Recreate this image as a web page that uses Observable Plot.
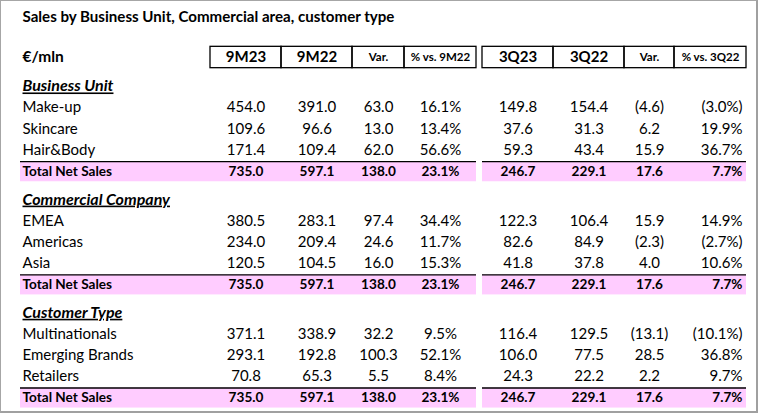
<!DOCTYPE html>
<html><head><meta charset="utf-8">
<script src="https://cdn.jsdelivr.net/npm/d3@7"></script>
<script src="https://cdn.jsdelivr.net/npm/@observablehq/plot@0.6"></script>
<style>
body{margin:0;background:#fff;}
#wrap{position:relative;width:761px;height:419px;}
#border{position:absolute;left:0;top:0;width:755px;height:410px;border-left:1px solid #a6a6a6;border-top:1px solid #a6a6a6;border-right:2px solid #a0a0a0;border-bottom:2px solid #a0a0a0;pointer-events:none;}
</style>
</head><body><div id="wrap"><div id="border"></div></div><script>
// ---- data ----
const title = "Sales by Business Unit, Commercial area, customer type";
const unitLabel = "€/mln";
const headers9M = ["9M23", "9M22", "Var.", "% vs. 9M22"];
const headers3Q = ["3Q23", "3Q22", "Var.", "% vs. 3Q22"];
const sectionNames = ["Business Unit", "Commercial Company", "Customer Type"];
const totalLabel = "Total Net Sales";

const buLabels = ["Make-up", "Skincare", "Hair&Body"];
const bu9M23 = [454.0, 109.6, 171.4];
const bu9M22 = [391.0, 96.6, 109.4];
const buVar9M = [63.0, 13.0, 62.0];
const buPct9M = [16.1, 13.4, 56.6];
const bu3Q23 = [149.8, 37.6, 59.3];
const bu3Q22 = [154.4, 31.3, 43.4];
const buVar3Q = [-4.6, 6.2, 15.9];
const buPct3Q = [-3.0, 19.9, 36.7];

const ccLabels = ["EMEA", "Americas", "Asia"];
const cc9M23 = [380.5, 234.0, 120.5];
const cc9M22 = [283.1, 209.4, 104.5];
const ccVar9M = [97.4, 24.6, 16.0];
const ccPct9M = [34.4, 11.7, 15.3];
const cc3Q23 = [122.3, 82.6, 41.8];
const cc3Q22 = [106.4, 84.9, 37.8];
const ccVar3Q = [15.9, -2.3, 4.0];
const ccPct3Q = [14.9, -2.7, 10.6];

const ctLabels = ["Multinationals", "Emerging Brands", "Retailers"];
const ct9M23 = [371.1, 293.1, 70.8];
const ct9M22 = [338.9, 192.8, 65.3];
const ctVar9M = [32.2, 100.3, 5.5];
const ctPct9M = [9.5, 52.1, 8.4];
const ct3Q23 = [116.4, 106.0, 24.3];
const ct3Q22 = [129.5, 77.5, 22.2];
const ctVar3Q = [-13.1, 28.5, 2.2];
const ctPct3Q = [-10.1, 36.8, 9.7];

const total9M23 = 735.0, total9M22 = 597.1, totalVar9M = 138.0, totalPct9M = 23.1;
const total3Q23 = 246.7, total3Q22 = 229.1, totalVar3Q = 17.6, totalPct3Q = 7.7;

// ---- layout ----
const FONT = "Lato, 'Open Sans', sans-serif";
const edges9M = [210, 281, 352, 404, 476];
const edges3Q = [482, 553, 624, 674, 746];
const labelX = 22;
const bandX0 = 20;
const lastRight = 742;
const rowGap = 1, sectionGap = 1.3;

const fmtNum = v => v < 0 ? `(${Math.abs(v).toFixed(1)})` : v.toFixed(1);
const fmtPct = v => v < 0 ? `(${Math.abs(v).toFixed(1)}%)` : `${v.toFixed(1)}%`;

const sections = [
  {name: sectionNames[0], labels: buLabels, cols: [bu9M23, bu9M22, buVar9M, buPct9M, bu3Q23, bu3Q22, buVar3Q, buPct3Q]},
  {name: sectionNames[1], labels: ccLabels, cols: [cc9M23, cc9M22, ccVar9M, ccPct9M, cc3Q23, cc3Q22, ccVar3Q, ccPct3Q]},
  {name: sectionNames[2], labels: ctLabels, cols: [ct9M23, ct9M22, ctVar9M, ctPct9M, ct3Q23, ct3Q22, ctVar3Q, ctPct3Q]}
];
const totals = [total9M23, total9M22, totalVar9M, totalPct9M, total3Q23, total3Q22, totalVar3Q, totalPct3Q];

const colSpecs = [];
for (const edges of [edges9M, edges3Q]) {
  for (let i = 0; i < 4; i++) colSpecs.push({x1: edges[i], x2: edges[i + 1]});
}
function colPos(j) {
  const c = colSpecs[j];
  if (j === 7) return {x: lastRight, anchor: "end"};
  return {x: (c.x1 + c.x2) / 2, anchor: "middle"};
}
const fmtCol = (j, v) => (j === 3 || j === 7) ? fmtPct(v) : fmtNum(v);

const cells = [];
const totalCells = [];
const headings = [];
const totalRows = [];
let pos = 0;
pos += 1.35;
sections.forEach((s, si) => {
  if (si > 0) pos += sectionGap;
  headings.push({y: pos, text: s.name});
  s.labels.forEach((lab, r) => {
    pos += rowGap;
    cells.push({y: pos, x: labelX, text: lab, anchor: "start"});
    s.cols.forEach((col, j) => {
      const p = colPos(j);
      cells.push({y: pos, x: p.x, text: fmtCol(j, col[r]), anchor: p.anchor});
    });
  });
  pos += rowGap;
  totalRows.push(pos);
  totalCells.push({y: pos, x: labelX, text: totalLabel, anchor: "start"});
  totals.forEach((v, j) => {
    const p = colPos(j);
    totalCells.push({y: pos, x: p.x, text: fmtCol(j, v), anchor: p.anchor});
  });
});
const lastPos = pos;

const headerCells = [...headers9M, ...headers3Q].map((h, j) => ({
  y: 0, x: (colSpecs[j].x1 + colSpecs[j].x2) / 2, text: h,
  big: !(h.startsWith("Var") || h.startsWith("%"))
}));
const headerBoxes = colSpecs.map(c => ({x1: c.x1, x2: c.x2, y1: -0.5, y2: 0.5}));
const bands = totalRows.flatMap(y => [
  {x1: bandX0, x2: edges9M[4], y1: y - 0.47, y2: y + 0.47},
  {x1: edges3Q[0], x2: edges3Q[4], y1: y - 0.47, y2: y + 0.47}
]);
const lines = bands.map(b => ({x1: b.x1, x2: b.x2, y: b.y1}));

const textMarks = (data, opts) => ["start", "middle", "end"].map(a =>
  Plot.text(data.filter(d => d.anchor === a), {x: "x", y: "y", text: "text", textAnchor: a, ...opts}));

const rowPx = 21.35, y0px = 57;
const chart = Plot.plot({
  width: 761, height: 419,
  margin: 0,
  style: {fontFamily: FONT, fontSize: "15px", color: "#000", background: "transparent"},
  x: {type: "linear", domain: [0, 761], range: [0, 761], axis: null},
  y: {type: "linear", domain: [0, lastPos], range: [y0px, y0px + lastPos * rowPx], axis: null},
  marks: [
    Plot.rect(bands, {x1: "x1", x2: "x2", y1: "y1", y2: "y2", fill: "#ffccff"}),
    Plot.ruleY(lines, {x1: "x1", x2: "x2", y: "y", stroke: "#000", strokeWidth: 1.3}),
    Plot.rect(headerBoxes, {x1: "x1", x2: "x2", y1: "y1", y2: "y2", fill: "none", stroke: "#000", strokeWidth: 1.3}),
    Plot.text([title], {x: () => labelX, y: () => -1.87, text: d => d, textAnchor: "start", fontWeight: "bold", fontSize: 15.1}),
    Plot.text([unitLabel], {x: () => labelX, y: () => 0, text: d => d, textAnchor: "start", fontWeight: "bold", fontSize: 15.5}),
    Plot.text(headerCells.filter(d => d.big), {x: "x", y: "y", text: "text", fontWeight: "bold", fontSize: 15}),
    Plot.text(headerCells.filter(d => !d.big), {x: "x", y: "y", text: "text", fontWeight: "bold", fontSize: 11.5}),
    Plot.text(headings, {x: () => labelX, y: "y", text: "text", textAnchor: "start", fontWeight: "bold", fontStyle: "italic", fontSize: 16}),
    ...textMarks(cells, {fontSize: 15}),
    ...textMarks(totalCells, {fontWeight: "bold", fontSize: 13.6})
  ]
});
d3.select(chart).selectAll("text").filter(function() { return sectionNames.includes(this.textContent); })
  .style("text-decoration", "underline");
document.getElementById("wrap").prepend(chart);
</script></body></html>
